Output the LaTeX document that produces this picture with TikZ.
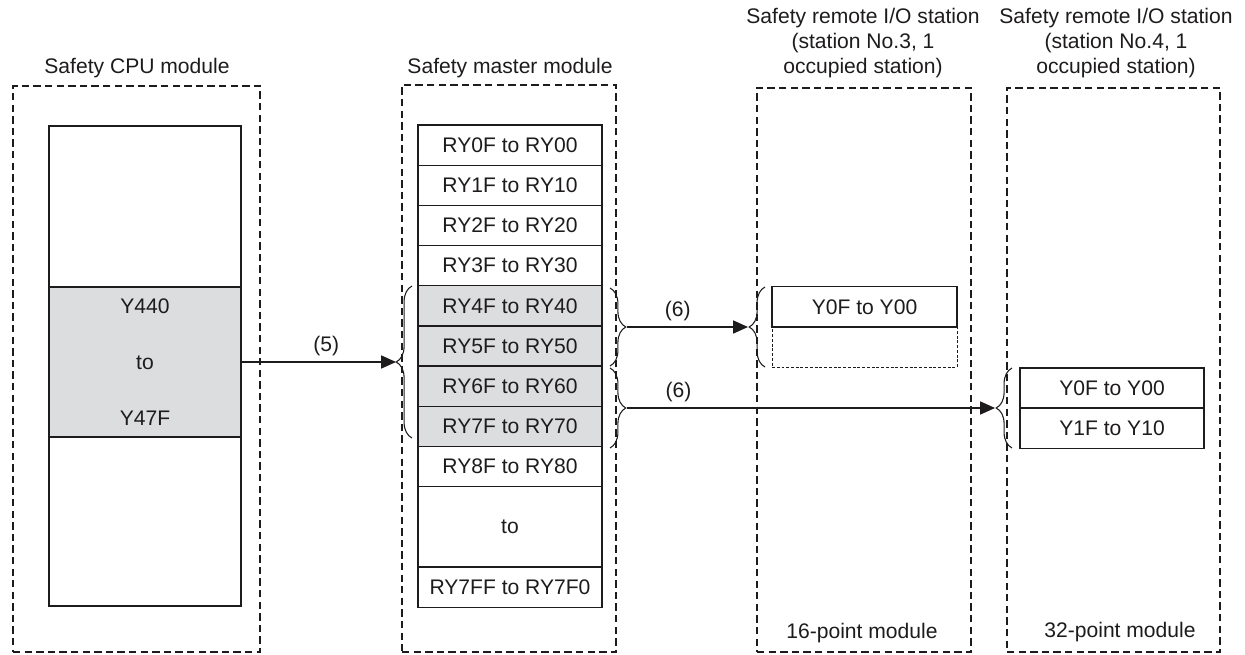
\documentclass[tikz,border=0pt]{standalone}
\usepackage{fontspec}
\setmainfont{Liberation Sans}
\usetikzlibrary{positioning,arrows.meta,decorations.pathreplacing}
\definecolor{ink}{RGB}{30,27,28}
\definecolor{regfill}{RGB}{220,221,222}

\begin{document}
\begin{tikzpicture}[x=0.02cm,y=-0.02cm,
  font=\fontsize{12}{14}\selectfont,color=ink,
  unit/.style={draw,line width=0.85pt,dash pattern=on 4.2pt off 2.4pt,inner sep=0pt},
  cell/.style={draw,line width=0.75pt,minimum width=3.68cm,minimum height=0.804cm,inner sep=0pt,outer sep=0pt},
  used/.style={cell,fill=regfill},
  spare/.style={cell,line width=0.5pt,dash pattern=on 1.7pt off 1pt},
  grp/.style={decorate,decoration={brace,amplitude=9pt},line width=0.6pt},
  link/.style={line width=0.6pt,-{Triangle[length=8.5pt,width=7.5pt]}}]
  \useasboundingbox (0,0) rectangle (1245,655);

  % module frames
  \node[unit,minimum width=4.94cm,minimum height=11.32cm] (cpu) at (136.5,369) {};
  \node[unit,minimum width=4.28cm,minimum height=11.34cm] (mst) at (509,368.5) {};
  \node[unit,minimum width=4.28cm,minimum height=11.28cm] (st3) at (864,370) {};
  \node[unit,minimum width=4.26cm,minimum height=11.28cm] (st4) at (1113.5,370) {};

  \node (cpuT) at (137,68) {Safety CPU module};
  \node (mstT) at (510,68) {Safety master module};
  \node[align=center] (st3T) at (863,43) {Safety remote I/O station\\(station No.3, 1\\occupied station)};
  \node[align=center] (st4T) at (1116,43) {Safety remote I/O station\\(station No.4, 1\\occupied station)};
  \node (st3P) at (862,633) {16-point module};
  \node (st4P) at (1120,632) {32-point module};

  % CPU device memory
  \node[cell,minimum width=3.84cm,minimum height=9.6cm] (cpuMem) at (145,366) {};
  \node[used,minimum width=3.84cm,minimum height=3cm,align=center] (cpuY) at (145,362) {Y440\\[17.8pt]to\\[17.8pt]Y47F};

  % master link devices
  \node[cell] (r0) at (510,145.1) {RY0F to RY00};
  \node[cell,below=0pt of r0] (r1) {RY1F to RY10};
  \node[cell,below=0pt of r1] (r2) {RY2F to RY20};
  \node[cell,below=0pt of r2] (r3) {RY3F to RY30};
  \node[used,below=0pt of r3] (r4) {RY4F to RY40};
  \node[used,below=0pt of r4] (r5) {RY5F to RY50};
  \node[used,below=0pt of r5] (r6) {RY6F to RY60};
  \node[used,below=0pt of r6] (r7) {RY7F to RY70};
  \node[cell,below=0pt of r7] (r8) {RY8F to RY80};
  \node[cell,minimum height=1.608cm,below=0pt of r8] (rto) {to};
  \node[cell,below=0pt of rto] (rlast) {RY7FF to RY7F0};

  % remote stations
  \node[spare,minimum width=3.7cm] (s3b) at (864.5,347) {};
  \node[cell,minimum width=3.7cm,above=0pt of s3b] (s3a) {Y0F to Y00};
  \node[cell] (s4a) at (1112,388) {Y0F to Y00};
  \node[cell,below=0pt of s4a] (s4b) {Y1F to Y10};

  % braces
  \draw[grp] (412,438) -- (412,286);
  \draw[grp] (610,288) -- (610,366);
  \draw[grp] (610,368) -- (610,448);
  \draw[grp] (765,367) -- (765,287);
  \draw[grp] (1012,448) -- (1012,368);
  \coordinate (inTip) at (396,362);
  \coordinate (outA) at (627,327);
  \coordinate (outB) at (627,408);
  \coordinate (inA) at (748,327);
  \coordinate (inB) at (995,408);

  \draw[link] (cpuY.east) -- (inTip) node[above,pos=0.55] {(5)};
  \draw[link] (outA) -- (inA) node[above,pos=0.42] {(6)};
  \draw[link] (outB) -- (inB) node[above,pos=0.14] {(6)};
\end{tikzpicture}
\end{document}
